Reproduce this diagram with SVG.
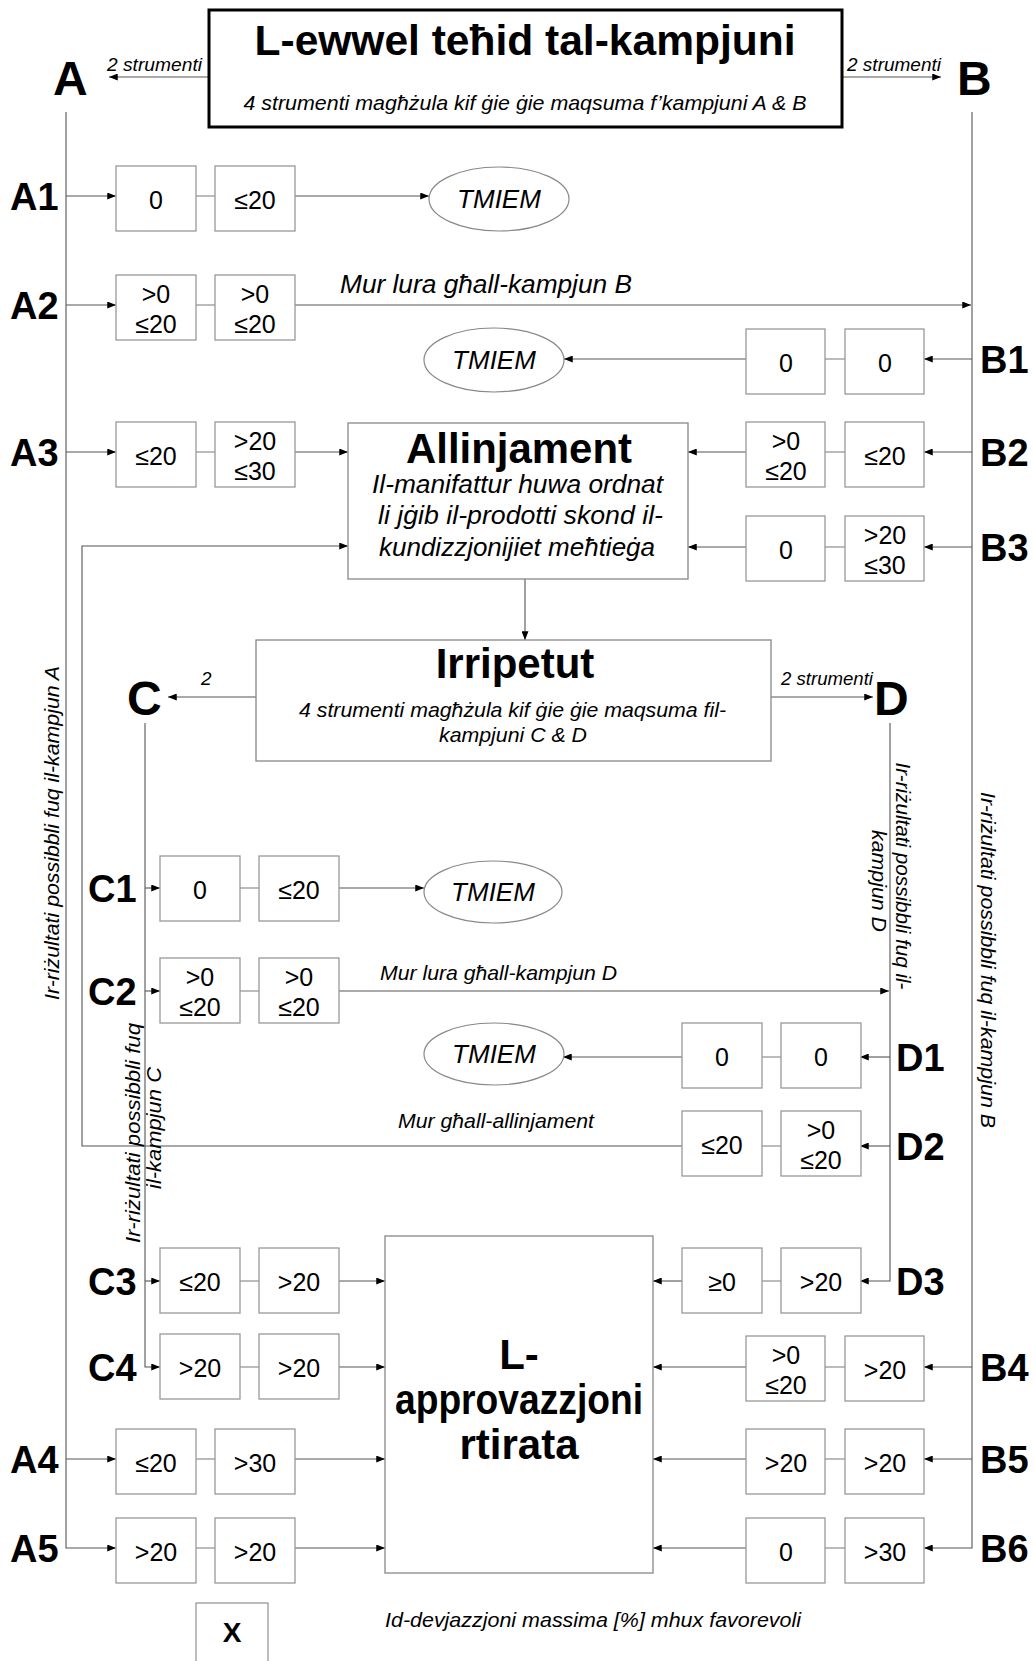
<svg xmlns="http://www.w3.org/2000/svg" width="1035" height="1661" viewBox="0 0 1035 1661">
<defs>
<marker id="ah" viewBox="0 0 10 8" refX="10" refY="4" markerWidth="9" markerHeight="7" orient="auto" markerUnits="userSpaceOnUse"><path d="M0,0 L10,4 L0,8 z" fill="#000"/></marker>
</defs>
<style>
text{font-family:"Liberation Sans",Arial,sans-serif;fill:#000}
.box{fill:#fff;stroke:#999;stroke-width:1.3}
.big{fill:#fff;stroke:#888;stroke-width:1.3}
.ell{fill:#fff;stroke:#888;stroke-width:1.2}
.val{font-size:25px;text-anchor:middle}
.lbl{font-size:38px;font-weight:bold}
.let{font-size:48px;font-weight:bold}
.hd{font-size:42px;font-weight:bold;text-anchor:middle}
.it{font-style:italic;font-size:21px}
.it19{font-style:italic;font-size:19px}
.it26{font-style:italic;font-size:26px}
.tm{font-style:italic;font-size:26px;text-anchor:middle}
.mid{text-anchor:middle}
.con{fill:none;stroke:#555;stroke-width:1.1}
.lnk{fill:none;stroke:#aaa;stroke-width:1.6}
</style>

<g id="connectors">
<g class="con" marker-end="url(#ah)">
<path d="M208,77 H109"/>
<path d="M842,77 H941"/>
<path d="M66,112 V1548 H116"/>
<path d="M66,196 H116"/>
<path d="M66,305 H116"/>
<path d="M66,452 H116"/>
<path d="M66,1459 H116"/>
<path d="M972,112 V1548 H924"/>
<path d="M972,359 H924"/>
<path d="M972,452 H924"/>
<path d="M972,547 H924"/>
<path d="M972,1367 H924"/>
<path d="M972,1459 H924"/>
<path d="M295,305 H971"/>
<path d="M145,723 V1367 H160"/>
<path d="M145,888 H160"/>
<path d="M145,991 H160"/>
<path d="M145,1281 H160"/>
<path d="M890,723 V1281 H860"/>
<path d="M890,1057 H860"/>
<path d="M890,1146 H860"/>
<path d="M339,991 H889"/>
<path d="M525,579 V640"/>
<path d="M256,697 H168"/>
<path d="M771,697 H873"/>
<path d="M295,196 H429"/>
<path d="M295,452 H348"/>
<path d="M295,1459 H385"/>
<path d="M295,1548 H385"/>
<path d="M746,359 H564"/>
<path d="M746,452 H688"/>
<path d="M746,547 H688"/>
<path d="M746,1367 H653"/>
<path d="M746,1459 H653"/>
<path d="M746,1548 H653"/>
<path d="M339,888 H424"/>
<path d="M339,1281 H385"/>
<path d="M339,1367 H385"/>
<path d="M682,1057 H563"/>
<path d="M682,1146 H82 V546 H348"/>
<path d="M682,1281 H653"/>
</g>
<g class="lnk">
<path d="M196,196 H215"/><path d="M196,305 H215"/><path d="M196,452 H215"/><path d="M196,1459 H215"/><path d="M196,1548 H215"/>
<path d="M825,359 H845"/><path d="M825,452 H845"/><path d="M825,547 H845"/><path d="M825,1367 H845"/><path d="M825,1459 H845"/><path d="M825,1548 H845"/>
<path d="M240,888 H259"/><path d="M240,991 H259"/><path d="M240,1281 H259"/><path d="M240,1367 H259"/>
<path d="M762,1057 H781"/><path d="M762,1146 H781"/><path d="M762,1281 H781"/>
</g>
<text class="it19" x="107" y="71" textLength="95" lengthAdjust="spacingAndGlyphs">2 strumenti</text>
<text class="it19" x="847" y="71" textLength="94" lengthAdjust="spacingAndGlyphs">2 strumenti</text>
<text class="it19" x="201" y="685">2</text>
<text class="it19" x="781" y="685" textLength="92" lengthAdjust="spacingAndGlyphs">2 strumenti</text>
<text class="it26" x="340" y="293" textLength="292" lengthAdjust="spacingAndGlyphs">Mur lura għall-kampjun B</text>
<text class="it" x="380" y="980" textLength="237" lengthAdjust="spacingAndGlyphs">Mur lura għall-kampjun D</text>
<text class="it" x="398" y="1128" textLength="196" lengthAdjust="spacingAndGlyphs">Mur għall-allinjament</text>
</g>

<g id="title">
<rect x="209" y="10" width="633" height="117" fill="#fff" stroke="#000" stroke-width="3"/>
<text class="hd" x="525" y="55" textLength="541" lengthAdjust="spacingAndGlyphs">L-ewwel teħid tal-kampjuni</text>
<text class="it mid" x="525" y="110" textLength="563" lengthAdjust="spacingAndGlyphs">4 strumenti magħżula kif ġie ġie maqsuma f’kampjuni A &amp; B</text>
</g>
<g id="A"><text class="let" x="53" y="95">A</text></g>
<g id="B"><text class="let" x="957" y="95">B</text></g>
<g id="C"><text class="let" x="127" y="715">C</text></g>
<g id="D"><text class="let" x="874" y="715">D</text></g>

<g id="label-A"><text class="it" transform="translate(58.5,833) rotate(-90)" text-anchor="middle" textLength="334" lengthAdjust="spacingAndGlyphs">Ir-riżultati possibbli fuq il-kampjun A</text></g>
<g id="label-B"><text class="it" transform="translate(981,960) rotate(90)" text-anchor="middle" textLength="336" lengthAdjust="spacingAndGlyphs">Ir-riżultati possibbli fuq il-kampjun B</text></g>
<g id="label-C">
<text class="it" transform="translate(140,1133) rotate(-90)" text-anchor="middle" textLength="220" lengthAdjust="spacingAndGlyphs">Ir-riżultati possibbli fuq</text>
<text class="it" transform="translate(161,1128) rotate(-90)" text-anchor="middle" textLength="122" lengthAdjust="spacingAndGlyphs">il-kampjun C</text>
</g>
<g id="label-D">
<text class="it" transform="translate(896,876) rotate(90)" text-anchor="middle" textLength="227" lengthAdjust="spacingAndGlyphs">Ir-riżultati possibbli fuq il-</text>
<text class="it" transform="translate(872,881) rotate(90)" text-anchor="middle" textLength="102" lengthAdjust="spacingAndGlyphs">kampjun D</text>
</g>

<g id="allinjament">
<rect class="big" x="348" y="423" width="340" height="156"/>
<text class="hd" x="519" y="463" textLength="226" lengthAdjust="spacingAndGlyphs">Allinjament</text>
<text class="it26" x="372" y="493" textLength="291" lengthAdjust="spacingAndGlyphs">Il-manifattur huwa ordnat</text>
<text class="it26" x="378" y="524" textLength="285" lengthAdjust="spacingAndGlyphs">li jġib il-prodotti skond il-</text>
<text class="it26" x="379" y="556" textLength="276" lengthAdjust="spacingAndGlyphs">kundizzjonijiet meħtieġa</text>
</g>

<g id="irripetut">
<rect class="big" x="256" y="640" width="515" height="121"/>
<text class="hd" x="515" y="678">Irripetut</text>
<text class="it" x="299" y="717" textLength="427" lengthAdjust="spacingAndGlyphs">4 strumenti magħżula kif ġie ġie maqsuma fil-</text>
<text class="it" x="439" y="742" textLength="148" lengthAdjust="spacingAndGlyphs">kampjuni C &amp; D</text>
</g>

<g id="approvazzjoni">
<rect class="big" x="385" y="1236" width="268" height="337"/>
<text class="hd" x="519" y="1369" font-size="36">L-</text>
<text class="hd" x="519" y="1414" font-size="36" textLength="248" lengthAdjust="spacingAndGlyphs">approvazzjoni</text>
<text class="hd" x="519" y="1459" font-size="36">rtirata</text>
</g>

<g id="tmiem-A1"><ellipse class="ell" cx="499" cy="199" rx="70" ry="32"/><text class="tm" x="499" y="208">TMIEM</text></g>
<g id="tmiem-B1"><ellipse class="ell" cx="494" cy="360" rx="70" ry="32"/><text class="tm" x="494" y="369">TMIEM</text></g>
<g id="tmiem-C1"><ellipse class="ell" cx="493" cy="892" rx="69" ry="31"/><text class="tm" x="493" y="901">TMIEM</text></g>
<g id="tmiem-D1"><ellipse class="ell" cx="494" cy="1054" rx="70" ry="31"/><text class="tm" x="494" y="1063">TMIEM</text></g>

<g id="row-A1"><text class="lbl" x="10" y="209.5">A1</text>
<rect class="box" x="116" y="166" width="80" height="65"/><text class="val" x="156" y="209">0</text>
<rect class="box" x="215" y="166" width="80" height="65"/><text class="val" x="255" y="209">≤20</text></g>
<g id="row-A2"><text class="lbl" x="10" y="318.5">A2</text>
<rect class="box" x="116" y="275" width="80" height="65"/><text class="val" x="156" y="303">&gt;0</text><text class="val" x="156" y="333">≤20</text>
<rect class="box" x="215" y="275" width="80" height="65"/><text class="val" x="255" y="303">&gt;0</text><text class="val" x="255" y="333">≤20</text></g>
<g id="row-A3"><text class="lbl" x="10" y="465.5">A3</text>
<rect class="box" x="116" y="422" width="80" height="65"/><text class="val" x="156" y="465">≤20</text>
<rect class="box" x="215" y="422" width="80" height="65"/><text class="val" x="255" y="450">&gt;20</text><text class="val" x="255" y="480">≤30</text></g>
<g id="row-A4"><text class="lbl" x="10" y="1472.5">A4</text>
<rect class="box" x="116" y="1429" width="80" height="65"/><text class="val" x="156" y="1472">≤20</text>
<rect class="box" x="215" y="1429" width="80" height="65"/><text class="val" x="255" y="1472">&gt;30</text></g>
<g id="row-A5"><text class="lbl" x="10" y="1561.5">A5</text>
<rect class="box" x="116" y="1518" width="80" height="65"/><text class="val" x="156" y="1561">&gt;20</text>
<rect class="box" x="215" y="1518" width="80" height="65"/><text class="val" x="255" y="1561">&gt;20</text></g>

<g id="row-B1"><text class="lbl" x="980" y="372.5">B1</text>
<rect class="box" x="746" y="329" width="79" height="65"/><text class="val" x="786" y="372">0</text>
<rect class="box" x="845" y="329" width="79" height="65"/><text class="val" x="885" y="372">0</text></g>
<g id="row-B2"><text class="lbl" x="980" y="465.5">B2</text>
<rect class="box" x="746" y="422" width="79" height="65"/><text class="val" x="786" y="450">&gt;0</text><text class="val" x="786" y="480">≤20</text>
<rect class="box" x="845" y="422" width="79" height="65"/><text class="val" x="885" y="465">≤20</text></g>
<g id="row-B3"><text class="lbl" x="980" y="560.5">B3</text>
<rect class="box" x="746" y="516" width="79" height="65"/><text class="val" x="786" y="559">0</text>
<rect class="box" x="845" y="516" width="79" height="65"/><text class="val" x="885" y="544">&gt;20</text><text class="val" x="885" y="574">≤30</text></g>
<g id="row-B4"><text class="lbl" x="980" y="1380.5">B4</text>
<rect class="box" x="746" y="1336" width="79" height="65"/><text class="val" x="786" y="1364">&gt;0</text><text class="val" x="786" y="1394">≤20</text>
<rect class="box" x="845" y="1336" width="79" height="65"/><text class="val" x="885" y="1379">&gt;20</text></g>
<g id="row-B5"><text class="lbl" x="980" y="1472.5">B5</text>
<rect class="box" x="746" y="1429" width="79" height="65"/><text class="val" x="786" y="1472">&gt;20</text>
<rect class="box" x="845" y="1429" width="79" height="65"/><text class="val" x="885" y="1472">&gt;20</text></g>
<g id="row-B6"><text class="lbl" x="980" y="1561.5">B6</text>
<rect class="box" x="746" y="1518" width="79" height="65"/><text class="val" x="786" y="1561">0</text>
<rect class="box" x="845" y="1518" width="79" height="65"/><text class="val" x="885" y="1561">&gt;30</text></g>

<g id="row-C1"><text class="lbl" x="88" y="901.5">C1</text>
<rect class="box" x="160" y="856" width="80" height="65"/><text class="val" x="200" y="899">0</text>
<rect class="box" x="259" y="856" width="80" height="65"/><text class="val" x="299" y="899">≤20</text></g>
<g id="row-C2"><text class="lbl" x="88" y="1004.5">C2</text>
<rect class="box" x="160" y="958" width="80" height="65"/><text class="val" x="200" y="986">&gt;0</text><text class="val" x="200" y="1016">≤20</text>
<rect class="box" x="259" y="958" width="80" height="65"/><text class="val" x="299" y="986">&gt;0</text><text class="val" x="299" y="1016">≤20</text></g>
<g id="row-C3"><text class="lbl" x="88" y="1294.5">C3</text>
<rect class="box" x="160" y="1248" width="80" height="65"/><text class="val" x="200" y="1291">≤20</text>
<rect class="box" x="259" y="1248" width="80" height="65"/><text class="val" x="299" y="1291">&gt;20</text></g>
<g id="row-C4"><text class="lbl" x="88" y="1380.5">C4</text>
<rect class="box" x="160" y="1334" width="80" height="65"/><text class="val" x="200" y="1377">&gt;20</text>
<rect class="box" x="259" y="1334" width="80" height="65"/><text class="val" x="299" y="1377">&gt;20</text></g>

<g id="row-D1"><text class="lbl" x="896" y="1070.5">D1</text>
<rect class="box" x="682" y="1023" width="80" height="65"/><text class="val" x="722" y="1066">0</text>
<rect class="box" x="781" y="1023" width="80" height="65"/><text class="val" x="821" y="1066">0</text></g>
<g id="row-D2"><text class="lbl" x="896" y="1159.5">D2</text>
<rect class="box" x="682" y="1111" width="80" height="65"/><text class="val" x="722" y="1154">≤20</text>
<rect class="box" x="781" y="1111" width="80" height="65"/><text class="val" x="821" y="1139">&gt;0</text><text class="val" x="821" y="1169">≤20</text></g>
<g id="row-D3"><text class="lbl" x="896" y="1294.5">D3</text>
<rect class="box" x="682" y="1248" width="80" height="65"/><text class="val" x="722" y="1291">≥0</text>
<rect class="box" x="781" y="1248" width="80" height="65"/><text class="val" x="821" y="1291">&gt;20</text></g>

<g id="legend">
<rect class="box" x="196" y="1603" width="72" height="70"/>
<text x="232" y="1642" font-size="28" font-weight="bold" text-anchor="middle">X</text>
<text class="it" x="385" y="1627" textLength="416" lengthAdjust="spacingAndGlyphs">Id-devjazzjoni massima [%] mhux favorevoli</text>
</g>
</svg>
